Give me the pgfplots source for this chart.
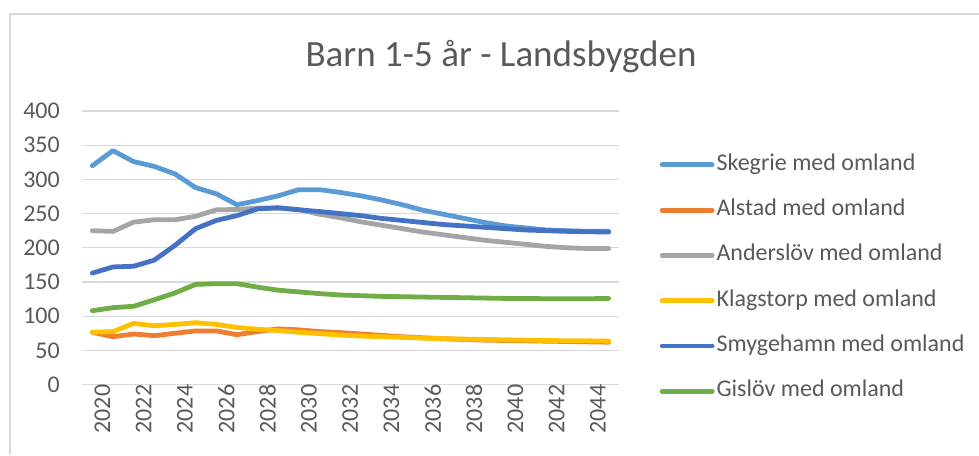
\documentclass[border=0pt]{standalone}
\usepackage{pgfplots}
\pgfplotsset{compat=1.18}
\usepackage{fontspec}
\setmainfont{Carlito}
\definecolor{cSke}{HTML}{5B9BD5}
\definecolor{cAls}{HTML}{ED7D31}
\definecolor{cAnd}{HTML}{A5A5A5}
\definecolor{cKla}{HTML}{FFC000}
\definecolor{cSmy}{HTML}{4472C4}
\definecolor{cGis}{HTML}{70AD47}
\definecolor{gridc}{HTML}{D9D9D9}
\definecolor{txt}{HTML}{595959}
\begin{document}
\begin{tikzpicture}[x=1pt,y=1pt]
\path[use as bounding box] (0,0) rectangle (979,455);
% chart frame
\draw[gridc, line width=1.5pt] (10,0) -- (10,441) -- (979,441);
\node[txt, font=\fontsize{37}{42}\selectfont] at (501,398) {Barn 1-5 år - Landsbygden};
\begin{axis}[
  at={(82pt,70.4pt)}, anchor=south west,
  scale only axis, width=537pt, height=273.6pt,
  xmin=2019.5, xmax=2045.5, ymin=0, ymax=400,
  ytick={0,50,...,400},
  xtick={2020,2022,...,2044},
  axis line style={draw=none},
  major tick length=0pt,
  ymajorgrids, grid style={gridc, line width=1.3pt},
  clip=false,
  tick label style={txt, font=\fontsize{24}{28}\selectfont},
  /pgf/number format/assume math mode=true,
  /pgf/number format/1000 sep={},
  yticklabel style={anchor=east, inner sep=0pt, xshift=-22pt},
  xticklabel style={rotate=90, anchor=east, inner sep=0pt, yshift=-10pt},
  every axis plot/.append style={line width=4.8pt, line cap=round, line join=round},
  legend cell align=left,
  legend style={draw=none, fill=none, at={(1.07,0.857)}, anchor=north west,
    font=\fontsize{24}{28}\selectfont, text=txt, row sep=20.3pt,
    nodes={inner sep=2pt, text height=16pt, text depth=5pt}},
  legend image code/.code={\draw[#1, line width=4.8pt, line cap=round] (0pt,0pt) -- (50pt,0pt);},
]
\addplot[cSke] coordinates {
(2020,320)(2021,342)(2022,326)(2023,319)(2024,308)(2025,288)(2026,279)(2027,263)(2028,269)(2029,276)
(2030,285)(2031,285)(2032,281)(2033,276)(2034,270)(2035,263)(2036,255)(2037,249)(2038,243)(2039,237)
(2040,232)(2041,229)(2042,226)(2043,225)(2044,224)(2045,224)};
\addlegendentry{Skegrie med omland}
\addplot[cAls] coordinates {
(2020,76.5)(2021,70)(2022,74)(2023,71.5)(2024,75)(2025,78.5)(2026,78.5)(2027,73)(2028,77.5)(2029,81.5)
(2030,80)(2031,77.5)(2032,76)(2033,74)(2034,72)(2035,70)(2036,68.5)(2037,67)(2038,66)(2039,65)
(2040,64.5)(2041,64)(2042,63.5)(2043,63)(2044,62.5)(2045,62)};
\addlegendentry{Alstad med omland}
\addplot[cAnd] coordinates {
(2020,225)(2021,224)(2022,237.5)(2023,241)(2024,241)(2025,246)(2026,255.5)(2027,256)(2028,258)(2029,258)
(2030,256)(2031,249)(2032,244)(2033,238)(2034,233)(2035,228)(2036,223)(2037,219)(2038,215)(2039,211)
(2040,208)(2041,205)(2042,202)(2043,200)(2044,199)(2045,199)};
\addlegendentry{Anderslöv med omland}
\addplot[cKla] coordinates {
(2020,76.5)(2021,77.5)(2022,89.5)(2023,86)(2024,88)(2025,90.5)(2026,88)(2027,83.5)(2028,81)(2029,79)
(2030,76.5)(2031,74.5)(2032,72.5)(2033,71)(2034,70)(2035,69)(2036,68)(2037,67)(2038,66.5)(2039,66)
(2040,65.5)(2041,65)(2042,64.5)(2043,64)(2044,64)(2045,63.5)};
\addlegendentry{Klagstorp med omland}
\addplot[cSmy] coordinates {
(2020,163)(2021,172)(2022,173)(2023,182)(2024,203.5)(2025,228)(2026,240)(2027,247)(2028,257)(2029,258.5)
(2030,255.5)(2031,253)(2032,250)(2033,247)(2034,243)(2035,240)(2036,237)(2037,234)(2038,232)(2039,230)
(2040,228)(2041,226)(2042,225)(2043,224)(2044,223.5)(2045,223)};
\addlegendentry{Smygehamn med omland}
\addplot[cGis] coordinates {
(2020,108)(2021,112.5)(2022,114.5)(2023,124)(2024,134)(2025,146.5)(2026,147.5)(2027,147.5)(2028,142.5)(2029,138)
(2030,135.5)(2031,133)(2032,131)(2033,130)(2034,129)(2035,128.5)(2036,128)(2037,127.5)(2038,127)(2039,126.5)
(2040,126)(2041,126)(2042,125.5)(2043,125.5)(2044,125.5)(2045,126)};
\addlegendentry{Gislöv med omland}
\end{axis}
\end{tikzpicture}
\end{document}
